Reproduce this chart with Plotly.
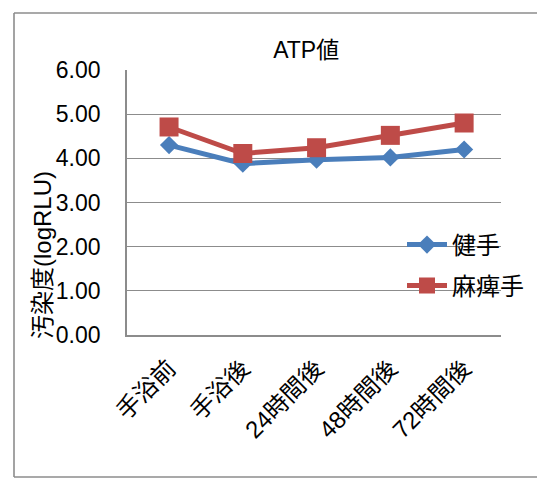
import plotly.graph_objects as go

# Sampling points and ATP contamination (logRLU) per hand
categories = ["手浴前", "手浴後", "24時間後", "48時間後", "72時間後"]
healthy_hand = [4.30, 3.88, 3.97, 4.02, 4.20]
paralyzed_hand = [4.71, 4.11, 4.24, 4.52, 4.80]
y_ticks = [0, 1, 2, 3, 4, 5, 6]

BLUE = "#4A7EBB"
RED = "#BE4B48"
GRID = "#8C8C8C"
FONT = "Liberation Sans, Noto Sans CJK JP, sans-serif"

# plot area in pixels: x 127..501, y 70..335
PW, PH = 374, 265

fig = go.Figure()
fig.add_trace(go.Scatter(
    x=categories, y=healthy_hand, name="健手", mode="lines+markers",
    line=dict(color=BLUE, width=5),
    marker=dict(symbol="diamond", size=14, color=BLUE),
    legend="legend",
))
fig.add_trace(go.Scatter(
    x=categories, y=paralyzed_hand, name="麻痺手", mode="lines+markers",
    line=dict(color=RED, width=5),
    marker=dict(symbol="square", size=19, color=RED),
    legend="legend2",
))

legend_style = dict(
    bgcolor="rgba(0,0,0,0)", borderwidth=0, itemwidth=40,
    font=dict(family=FONT, size=24, color="#000000"),
    xanchor="left", yanchor="middle",
)

def border(x0, y0, x1, y1):
    return dict(type="line", xref="paper", yref="paper",
                x0=(x0 - 127) / PW, x1=(x1 - 127) / PW,
                y0=(335 - y0) / PH, y1=(335 - y1) / PH,
                line=dict(color=GRID, width=1.6), layer="below")

fig.update_layout(
    width=544, height=480,
    margin=dict(l=127, r=43, t=70, b=145),
    paper_bgcolor="white", plot_bgcolor="white",
    font=dict(family=FONT, color="#000000"),
    showlegend=True,
    title=dict(text="ATP値", xref="paper", x=0.479, xanchor="center",
               y=1 - 50 / 480, yanchor="middle",
               font=dict(family=FONT, size=23, color="#000000")),
    legend=dict(x=(402 - 127) / PW, y=(335 - 245) / PH, **legend_style),
    legend2=dict(x=(402 - 127) / PW, y=(335 - 286) / PH, **legend_style),
    xaxis=dict(
        type="category", tickangle=-45, showgrid=False,
        range=[-0.57, 4.5],
        showline=True, linecolor=GRID, linewidth=1.6,
        ticks="", ticklabelstandoff=8,
        tickfont=dict(family=FONT, size=24, color="#000000"),
    ),
    yaxis=dict(
        range=[0, 6], tickvals=y_ticks, tickformat=".2f",
        showgrid=True, gridcolor=GRID, gridwidth=1.3,
        showline=True, linecolor=GRID, linewidth=1.6,
        zeroline=False, ticks="", ticklabelstandoff=20,
        tickfont=dict(family=FONT, size=23, color="#000000"),
    ),
    annotations=[dict(
        text="汚染度(logRLU)", textangle=-90, showarrow=False,
        xref="paper", yref="paper",
        x=(42 - 127) / PW, y=(335 - 255) / PH,
        xanchor="center", yanchor="middle",
        font=dict(family=FONT, size=24, color="#000000"),
    )],
    shapes=[
        border(14, 13, 537, 13),
        border(14, 13, 14, 477),
        border(14, 477, 537, 477),
    ],
)

fig.write_html("out.html")
